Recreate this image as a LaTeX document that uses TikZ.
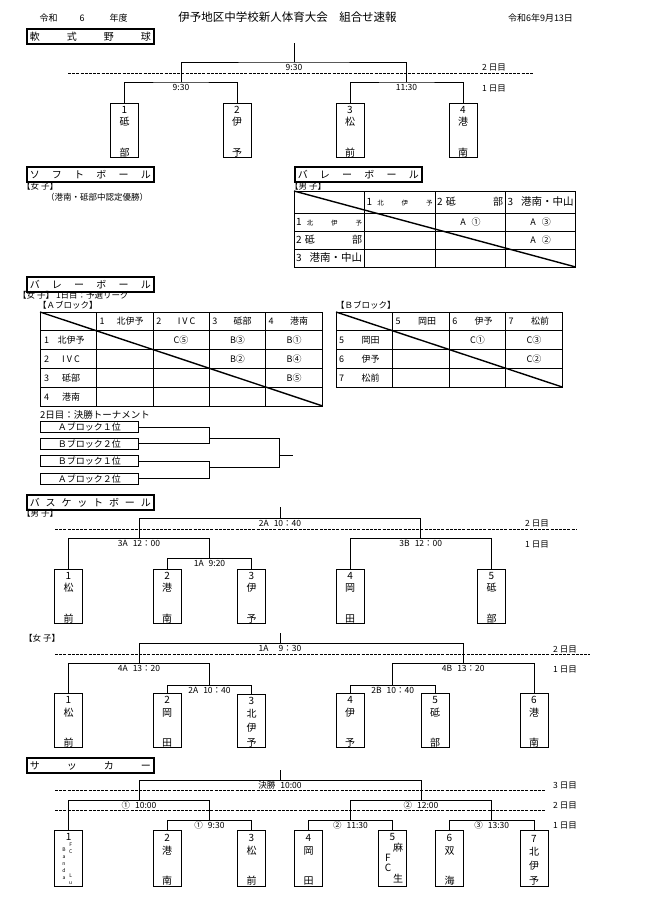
\documentclass[tikz,border=0pt]{standalone}
\usepackage{fontspec}
\setmainfont{Noto Sans CJK JP}
\usetikzlibrary{calc}
\tikzset{
    secbox/.style={draw,line width=1.6pt,anchor=north west,minimum width=127pt,
        minimum height=15pt,inner sep=0pt,text height=7.5pt,text depth=0pt,
        font=\fontsize{10}{11}\selectfont},
    team/.style={draw,line width=0.8pt,minimum width=28pt,minimum height=54pt,
        inner sep=0pt,align=center,font=\fontsize{10}{12.5}\selectfont},
    teamno/.style={inner sep=0pt,text height=7pt,text depth=0pt,
        font=\fontsize{10}{11}\selectfont},
    tinytxt/.style={inner sep=0pt,align=center,font=\fontsize{5}{7}\selectfont},
    bline/.style={line width=0.8pt},
    dayline/.style={line width=0.6pt,dash pattern=on 3pt off 1.2pt},
    mlabel/.style={anchor=north,yshift=-2pt,inner sep=0pt,text height=6pt,
        text depth=0pt,font=\fontsize{8.5}{9}\selectfont},
    daylbl/.style={inner sep=0pt,text height=6.5pt,text depth=0pt,
        font=\fontsize{8.5}{9}\selectfont},
    hdr/.style={inner sep=0pt,text height=7pt,text depth=0pt,
        font=\fontsize{9}{10}\selectfont},
    smalltxt/.style={anchor=west,inner sep=0pt,text height=6.5pt,text depth=0pt,
        font=\fontsize{8.5}{9}\selectfont},
    tline/.style={line width=0.8pt},
    diag/.style={line width=1.4pt},
    cell/.style={inner sep=0pt,text height=7pt,text depth=0pt,
        font=\fontsize{9}{10}\selectfont},
    cellv/.style={anchor=west,inner sep=0pt,text height=7.5pt,text depth=0pt,
        font=\fontsize{10}{11}\selectfont},
    blockbox/.style={draw,line width=0.8pt,anchor=west,minimum width=98pt,
        minimum height=11pt,inner sep=0pt,text height=7pt,text depth=0pt,
        font=\fontsize{9}{10}\selectfont}
}
\newcommand{\smallch}{\fontsize{6.5}{7}\selectfont}
\newcommand{\bigch}{\fontsize{10.5}{11}\selectfont}
\newcommand{\tstrut}{\rule{0pt}{10pt}}
\newcommand{\gap}{\hspace{5pt}}

\begin{document}
\begin{tikzpicture}[x=1pt,y=-1pt]
    \useasboundingbox (0,0) rectangle (647,903);
    % Header
    \node[hdr] (hera) at (48.5,18) {令和};
    \node[hdr] (hyear) at (82,18) {6};
    \node[hdr] (hnendo) at (118.5,18) {年度};
    \node[hdr,font=\fontsize{11.5}{12}\selectfont] (htitle) at (287.5,18) {伊予地区中学校新人体育大会　組合せ速報};
    \node[hdr] (hdate) at (540.5,18) {令和6年9月13日};

    % Baseball
    \node[secbox] (sbase) at (26,28) {\makebox[121pt][s]{軟\hfill 式\hfill 野\hfill 球}};
    \node[team] (bb1) at (124.5,130) {\tstrut 1\\砥\\[18pt]部};
    \node[team] (bb2) at (237,130) {\tstrut 2\\伊\\[18pt]予};
    \node[team] (bb3) at (350,130) {\tstrut 3\\松\\[18pt]前};
    \node[team] (bb4) at (463,130) {\tstrut 4\\港\\[18pt]南};
    \coordinate (bbA) at (181,82);
    \coordinate (bbB) at (406.5,82);
    \coordinate (bbF) at (294,62);
    \coordinate (bbT) at (294,43);
    \draw[bline] (bb1.north) |- (bbA) -| (bb2.north);
    \draw[bline] (bb3.north) |- (bbB) -| (bb4.north);
    \draw[bline] (bbA) |- (bbF) -| (bbB);
    \draw[bline] (bbF) -- (bbT);
    \node[mlabel] (bblF) at (bbF) {9:30};
    \node[mlabel] (bblA) at (bbA) {9:30};
    \node[mlabel] (bblB) at (bbB) {11:30};
    \draw[dayline] (68,73) -- (534,73);
    \node[daylbl] (bbd2) at (494,67) {2 日目};
    \node[daylbl] (bbd1) at (494,88) {1 日目};

    % Softball
    \node[secbox] (ssoft) at (26,166) {\makebox[121pt][s]{ソ\hfill フ\hfill ト\hfill ボ\hfill ー\hfill ル}};
    \node[smalltxt] (sgirl) at (22,186) {【女 子】};
    \node[smalltxt] (snote) at (46,197) {（港南・砥部中認定優勝）};

    % Volleyball, boys
    \node[secbox] (svb1) at (294,166) {\makebox[121pt][s]{バ\hfill レ\hfill ー\hfill ボ\hfill ー\hfill ル}};
    \node[smalltxt] (vboy) at (290,186) {【男 子】};
    \draw[tline] (294,191) rectangle (575.7,267);
    \foreach \x in {364.4,435.4,505.6} \draw[tline] (\x,191) -- (\x,267);
    \foreach \y in {213,231,249} \draw[tline] (294,\y) -- (575.7,\y);
    \draw[diag] (294,191) -- (575.7,267);
    \node[cellv] (vbh1) at (366.5,202) {\makebox[66pt][s]{1\hspace{5pt}{\smallch 北\hfill 伊\hfill 予}}};
    \node[cellv] (vbh2) at (437,202) {\makebox[66pt][s]{2\hspace{3pt}砥\hfill 部}};
    \node[cellv] (vbh3) at (507.5,202) {\makebox[66pt][s]{3\hfill{\bigch 港南・中山}}};
    \node[cellv] (vbr1) at (296,222) {\makebox[66pt][s]{1\hspace{5pt}{\smallch 北\hfill 伊\hfill 予}}};
    \node[cellv] (vbr2) at (296,240) {\makebox[66pt][s]{2\hspace{3pt}砥\hfill 部}};
    \node[cellv] (vbr3) at (296,258) {\makebox[66pt][s]{3\hfill{\bigch 港南・中山}}};
    \node[cell] (vbc12) at (470.5,222) {A\hspace{6pt}①};
    \node[cell] (vbc13) at (540.6,222) {A\hspace{6pt}③};
    \node[cell] (vbc23) at (540.6,240) {A\hspace{6pt}②};

    % Volleyball, girls
    \node[secbox] (svb2) at (26,276) {\makebox[121pt][s]{バ\hfill レ\hfill ー\hfill ボ\hfill ー\hfill ル}};
    \node[smalltxt] (vgirl) at (18,295) {【女 子】 1日目：予選リーグ};
    \node[smalltxt] (vblkA) at (38,305) {【Ａブロック】};
    \node[smalltxt] (vblkB) at (336,305) {【Ｂブロック】};
    % block A
    \draw[tline] (40,312) rectangle (322.7,406);
    \foreach \x in {96.7,153.3,209.3,265.7} \draw[tline] (\x,312) -- (\x,406);
    \foreach \y in {330,349,368,387} \draw[tline] (40,\y) -- (322.7,\y);
    \draw[diag] (40,312) -- (322.7,406);
    \foreach \n/\nm/\xl in {1/北伊予/96.7,2/I V C/153.3,3/砥部/209.3,4/港南/265.7}{
        \node[cell] (ah\n) at (\xl+5.5,321) {\n};
        \node[cell] (ahn\n) at (\xl+33.3,321) {\nm};
    }
    \foreach \n/\nm/\y in {1/北伊予/339.5,2/I V C/358.5,3/砥部/377.5,4/港南/396.5}{
        \node[cell] (ar\n) at (46.7,\y) {\n};
        \node[cell] (arn\n) at (71,\y) {\nm};
    }
    \node[cell] (ac12) at (181,339.5) {C⑤};
    \node[cell] (ac13) at (237.5,339.5) {B③};
    \node[cell] (ac14) at (294.2,339.5) {B①};
    \node[cell] (ac23) at (237.5,358.5) {B②};
    \node[cell] (ac24) at (294.2,358.5) {B④};
    \node[cell] (ac34) at (294.2,377.5) {B⑤};
    % block B
    \draw[tline] (336,312) rectangle (562.3,387);
    \foreach \x in {392.7,449.3,505.7} \draw[tline] (\x,312) -- (\x,387);
    \foreach \y in {330,349,368} \draw[tline] (336,\y) -- (562.3,\y);
    \draw[diag] (336,312) -- (562.3,387);
    \foreach \n/\nm/\xl in {5/岡田/392.7,6/伊予/449.3,7/松前/505.7}{
        \node[cell] (bh\n) at (\xl+5.5,321) {\n};
        \node[cell] (bhn\n) at (\xl+34.3,321) {\nm};
    }
    \foreach \n/\nm/\y in {5/岡田/339.5,6/伊予/358.5,7/松前/377.5}{
        \node[cell] (br\n) at (341.5,\y) {\n};
        \node[cell] (brn\n) at (370.5,\y) {\nm};
    }
    \node[cell] (bc56) at (477.5,339.5) {C①};
    \node[cell] (bc57) at (534,339.5) {C③};
    \node[cell] (bc67) at (534,358.5) {C②};
    % final round
    \node[smalltxt,font=\fontsize{9.5}{10}\selectfont] (vfinal) at (40,415) {2日目：決勝トーナメント};
    \node[blockbox] (vtA1) at (40,427) {Ａブロック１位};
    \node[blockbox] (vtB2) at (40,443.8) {Ｂブロック２位};
    \node[blockbox] (vtB1) at (40,461.3) {Ｂブロック１位};
    \node[blockbox] (vtA2) at (40,478.7) {Ａブロック２位};
    \coordinate (vtj1) at (209.3,438.3);
    \coordinate (vtj2) at (209.3,467.3);
    \coordinate (vtjF) at (279.3,455);
    \coordinate (vtjO) at (293.3,455);
    \draw[bline] (vtA1.east) -| (vtj1);
    \draw[bline] (vtB2.east) -| (vtj1);
    \draw[bline] (vtB1.east) -| (vtj2);
    \draw[bline] (vtA2.east) -| (vtj2);
    \draw[bline] (vtj1) -| (vtjF);
    \draw[bline] (vtj2) -| (vtjF);
    \draw[bline] (vtjF) -- (vtjO);

    % Basketball, boys
    \node[secbox] (sbask) at (26,494) {\makebox[121pt][s]{バ\hfill ス\hfill ケ\hfill ッ\hfill ト\hfill ボ\hfill ー\hfill ル}};
    \node[smalltxt] (kboy) at (22,513) {【男 子】};
    \node[team] (kb1) at (68.5,596.3) {\tstrut 1\\松\\[18pt]前};
    \node[team] (kb2) at (167.2,596.3) {\tstrut 2\\港\\[18pt]南};
    \node[team] (kb3) at (251.5,596.3) {\tstrut 3\\伊\\[18pt]予};
    \node[team] (kb4) at (350.2,596.3) {\tstrut 4\\岡\\[18pt]田};
    \node[team] (kb5) at (491.5,596.3) {\tstrut 5\\砥\\[18pt]部};
    \coordinate (kbC) at (209.5,558.3);
    \coordinate (kbA) at (139,538.3);
    \coordinate (kbB) at (420.8,538.3);
    \coordinate (kbF) at (280,518.3);
    \coordinate (kbT) at (280,507);
    \draw[bline] (kb2.north) |- (kbC) -| (kb3.north);
    \draw[bline] (kb1.north) |- (kbA) -| (kbC);
    \draw[bline] (kb4.north) |- (kbB) -| (kb5.north);
    \draw[bline] (kbA) |- (kbF) -| (kbB);
    \draw[bline] (kbF) -- (kbT);
    \node[mlabel] (kblF) at (kbF) {2A\gap 10：40};
    \node[mlabel] (kblA) at (kbA) {3A\gap 12：00};
    \node[mlabel] (kblB) at (kbB) {3B\gap 12：00};
    \node[mlabel] (kblC) at (kbC) {1A\gap 9:20};
    \draw[dayline] (55,529.3) -- (577,529.3);
    \node[daylbl] (kbd2) at (537,523.3) {2 日目};
    \node[daylbl] (kbd1) at (537,544) {1 日目};

    % Basketball, girls
    \node[smalltxt] (kgirl) at (24,638.3) {【女 子】};
    \node[team,minimum height=53pt] (kg1) at (68.5,720.7) {\tstrut 1\\松\\[18pt]前};
    \node[team,minimum height=53pt] (kg2) at (167.2,720.7) {\tstrut 2\\岡\\[18pt]田};
    \node[team,minimum height=53pt] (kg3) at (251.5,720.7) {\tstrut 3\\北\\[2pt]伊\\[2pt]予};
    \node[team,minimum height=53pt] (kg4) at (350.2,720.7) {\tstrut 4\\伊\\[18pt]予};
    \node[team,minimum height=53pt] (kg5) at (435.2,720.7) {\tstrut 5\\砥\\[18pt]部};
    \node[team,minimum height=53pt] (kg6) at (534,720.7) {\tstrut 6\\港\\[18pt]南};
    \coordinate (kgC) at (209.5,685.7);
    \coordinate (kgD) at (392.7,685.7);
    \coordinate (kgA) at (139,663.3);
    \coordinate (kgB) at (463.3,663.3);
    \coordinate (kgF) at (280,643.3);
    \coordinate (kgT) at (280,633.3);
    \draw[bline] (kg2.north) |- (kgC) -| (kg3.north);
    \draw[bline] (kg4.north) |- (kgD) -| (kg5.north);
    \draw[bline] (kg1.north) |- (kgA) -| (kgC);
    \draw[bline] (kgD) |- (kgB) -| (kg6.north);
    \draw[bline] (kgA) |- (kgF) -| (kgB);
    \draw[bline] (kgF) -- (kgT);
    \node[mlabel] (kglF) at (kgF) {1A\gap\gap 9：30};
    \node[mlabel] (kglA) at (kgA) {4A\gap 13：20};
    \node[mlabel] (kglB) at (kgB) {4B\gap 13：20};
    \node[mlabel] (kglC) at (kgC) {2A\gap 10：40};
    \node[mlabel] (kglD) at (kgD) {2B\gap 10：40};
    \draw[dayline] (55,654.3) -- (590,654.3);
    \node[daylbl] (kgd2) at (565,649.3) {2 日目};
    \node[daylbl] (kgd1) at (565,669.3) {1 日目};

    % Soccer
    \node[secbox] (ssoc) at (26,757) {\makebox[121pt][s]{サ\hfill ッ\hfill カ\hfill ー}};
    \node[team,minimum height=56pt] (sc1) at (68.6,858.7) {};
    \node[team,minimum height=56pt] (sc2) at (167.2,858.7) {\tstrut 2\\港\\[18pt]南};
    \node[team,minimum height=56pt] (sc3) at (251.5,858.7) {\tstrut 3\\松\\[18pt]前};
    \node[team,minimum height=56pt] (sc4) at (308.5,858.7) {\tstrut 4\\岡\\[18pt]田};
    \node[team,minimum height=56pt] (sc5) at (392.5,858.7) {};
    \node[team,minimum height=56pt] (sc6) at (449.5,858.7) {\tstrut 6\\双\\[18pt]海};
    \node[team,minimum height=56pt] (sc7) at (534,858.7) {\tstrut 7\\北\\[2pt]伊\\[2pt]予};
    \node[teamno] (sc1n) at (68.6,837) {1};
    \node[tinytxt] (sc1fc) at (70.7,848.5) {F\\C};
    \node[tinytxt] (sc1bd) at (64,864) {B\\a\\n\\d\\a};
    \node[tinytxt] (sc1lu) at (70.7,879) {L\\u};
    \node[teamno] (sc5n) at (392.5,837) {5};
    \node[teamno] (sc5a) at (398,847.5) {麻};
    \node[teamno] (sc5f) at (388,858) {F};
    \node[teamno] (sc5c) at (388,867.7) {C};
    \node[teamno] (sc5b) at (398,879) {生};
    \coordinate (scC) at (209.5,820.7);
    \coordinate (scD) at (350.5,820.7);
    \coordinate (scE) at (491.7,820.7);
    \coordinate (scA) at (139,800);
    \coordinate (scB) at (421,800);
    \coordinate (scF) at (280,780);
    \coordinate (scT) at (280,770);
    \draw[bline] (sc2.north) |- (scC) -| (sc3.north);
    \draw[bline] (sc4.north) |- (scD) -| (sc5.north);
    \draw[bline] (sc6.north) |- (scE) -| (sc7.north);
    \draw[bline] (sc1.north) |- (scA) -| (scC);
    \draw[bline] (scD) |- (scB) -| (scE);
    \draw[bline] (scA) |- (scF) -| (scB);
    \draw[bline] (scF) -- (scT);
    \node[mlabel] (sclF) at (scF) {決勝\gap 10:00};
    \node[mlabel] (sclA) at (scA) {①\gap 10:00};
    \node[mlabel] (sclB) at (scB) {②\gap 12:00};
    \node[mlabel] (sclC) at (scC) {①\gap 9:30};
    \node[mlabel] (sclD) at (scD) {②\gap 11:30};
    \node[mlabel] (sclE) at (scE) {③\gap 13:30};
    \draw[dayline] (55,790.7) -- (545,790.7);
    \draw[dayline] (55,810.7) -- (545,810.7);
    \node[daylbl] (scd3) at (565,785) {3 日目};
    \node[daylbl] (scd2) at (565,805) {2 日目};
    \node[daylbl] (scd1) at (565,825) {1 日目};
\end{tikzpicture}
\end{document}
